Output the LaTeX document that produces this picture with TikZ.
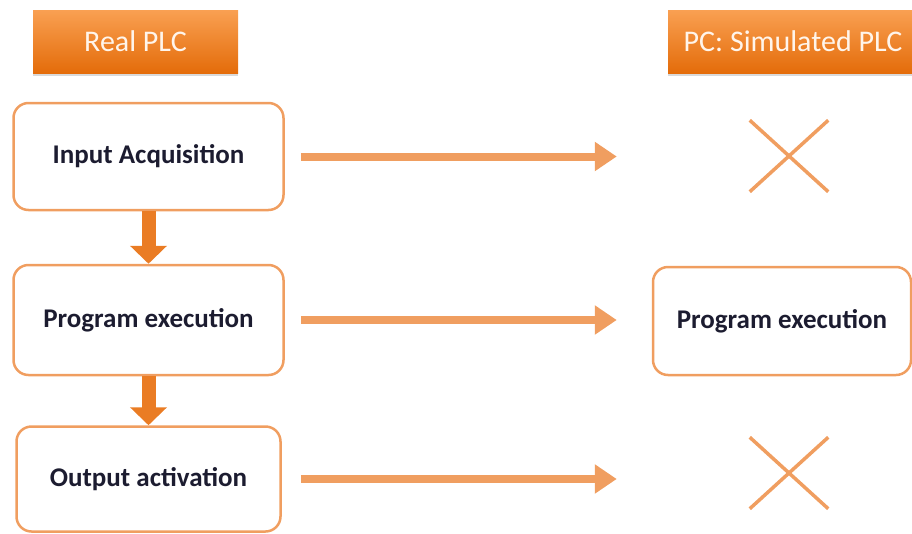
\documentclass[tikz,border=0pt]{standalone}
\usepackage{fontspec}
\setmainfont{Carlito}
\usetikzlibrary{arrows.meta,shapes.misc,shadows}

\definecolor{plcdark}{RGB}{228,108,10}
\definecolor{plclight}{RGB}{249,160,82}
\definecolor{plcline}{RGB}{240,158,96}
\definecolor{plcflow}{RGB}{234,124,36}
\definecolor{plctext}{RGB}{28,28,48}

\tikzset{
  header/.style={minimum height=63pt, inner sep=0pt, top color=plclight, bottom color=plcdark,
    text=white!92!orange, font=\fontsize{30}{30}\selectfont,
    drop shadow={shadow xshift=0pt, shadow yshift=-3pt, opacity=0.3}},
  stepbox/.style={draw=plcline, line width=2.5pt, rounded corners=15pt, minimum width=270pt,
    minimum height=107pt, text=plctext, font=\bfseries\fontsize{27}{27}\selectfont},
  nope/.style={cross out, draw=plcline, line width=3.5pt, minimum width=75pt, minimum height=68pt},
  flow/.style={draw=plcflow, line width=14pt, -{Triangle[width=36pt,length=18pt]}},
  sendarrow/.style={draw=plcline, line width=8pt, -{Triangle[width=28pt,length=22pt]},
    shorten <=16pt, shorten >=35pt}
}

\begin{document}
\begin{tikzpicture}[x=1pt,y=-1pt]
\useasboundingbox (0,0) rectangle (912,533);

\node[header, minimum width=205pt] (real) at (135.5,41.5) {Real PLC};
\node[header, minimum width=250pt] (pc) at (793,41.5) {PC: Simulated PLC};

\node[stepbox] (in) at (148.5,156.5) {Input Acquisition};
\node[stepbox, minimum height=110pt] (prog) at (148.5,320) {Program execution};
\node[stepbox, minimum width=264pt, minimum height=105pt] (out) at (148.5,479) {Output activation};

\node[stepbox, minimum width=258pt, minimum height=108pt] (sim) at (782,321) {Program execution};
\node[nope] (xin) at (789,156) {};
\node[nope] (xout) at (789,473) {};

\path[flow] (in) -- (prog);
\path[flow] (prog) -- (out);

\path[sendarrow] (in.east) -- (in.east -| sim.west);
\path[sendarrow] (prog.east) -- (prog.east -| sim.west);
\path[sendarrow, shorten <=19pt] (out.east) -- (out.east -| sim.west);
\end{tikzpicture}
\end{document}
